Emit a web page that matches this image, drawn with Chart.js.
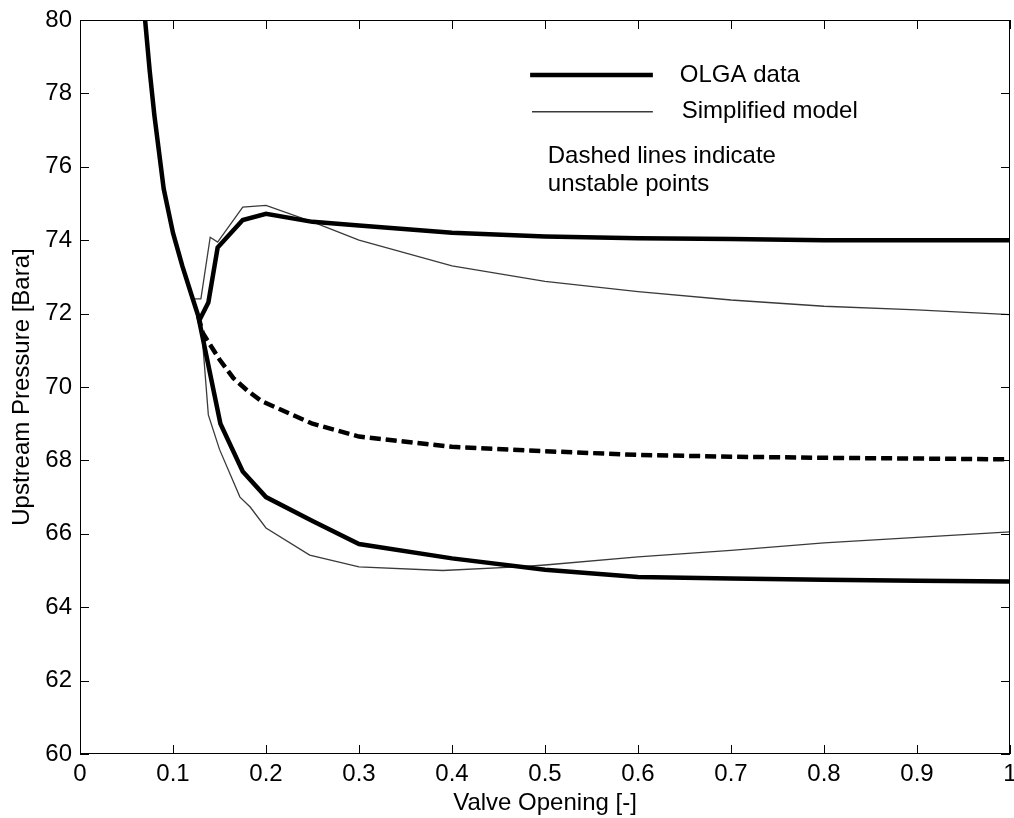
<!DOCTYPE html>
<html>
<head>
<meta charset="utf-8">
<script src="https://cdn.jsdelivr.net/npm/chart.js@4/dist/chart.umd.min.js"></script>
<style>
  html, body { margin: 0; padding: 0; background: #fff; }
  #wrap { width: 1014px; height: 818px; }
</style>
</head>
<body>
<div id="wrap"><canvas id="chart" width="1014" height="818"></canvas></div>
<script>
  // values
  var xTicks = [0, 0.1, 0.2, 0.3, 0.4, 0.5, 0.6, 0.7, 0.8, 0.9, 1];
  var yTicks = [60, 62, 64, 66, 68, 70, 72, 74, 76, 78, 80];

  // OLGA data: steep branch + upper stable branch
  var olgaUpperX = [0.070, 0.075, 0.080, 0.090, 0.100, 0.110, 0.120, 0.127, 0.130, 0.138, 0.148, 0.175, 0.200, 0.250, 0.300, 0.400, 0.500, 0.600, 0.700, 0.800, 0.900, 1.000];
  var olgaUpperY = [80.0, 78.6, 77.4, 75.4, 74.2, 73.3, 72.5, 71.95, 71.9, 72.3, 73.8, 74.55, 74.72, 74.5, 74.4, 74.2, 74.1, 74.05, 74.03, 74.0, 74.0, 74.0];
  // OLGA lower stable branch
  var olgaLowerX = [0.127, 0.151, 0.175, 0.200, 0.250, 0.300, 0.400, 0.500, 0.600, 0.700, 0.800, 0.900, 1.000];
  var olgaLowerY = [71.95, 69.0, 67.7, 67.0, 66.35, 65.72, 65.33, 65.02, 64.82, 64.78, 64.75, 64.72, 64.7];
  // OLGA unstable (dashed) branch
  var olgaDashX = [0.127, 0.132, 0.150, 0.165, 0.180, 0.195, 0.250, 0.300, 0.400, 0.500, 0.600, 0.700, 0.800, 0.900, 1.000];
  var olgaDashY = [71.95, 71.47, 70.75, 70.24, 69.9, 69.62, 69.0, 68.65, 68.37, 68.25, 68.15, 68.1, 68.07, 68.05, 68.03];

  // Simplified model: steep branch + upper branch
  var simUpperX = [0.070, 0.075, 0.080, 0.090, 0.100, 0.110, 0.120, 0.122, 0.130, 0.140, 0.148, 0.175, 0.200, 0.250, 0.300, 0.400, 0.500, 0.600, 0.700, 0.800, 0.900, 1.000];
  var simUpperY = [80.0, 78.6, 77.4, 75.4, 74.2, 73.3, 72.5, 72.4, 72.4, 74.08, 73.95, 74.9, 74.95, 74.5, 74.0, 73.3, 72.88, 72.6, 72.37, 72.2, 72.1, 71.97];
  var simLowerX = [0.127, 0.131, 0.138, 0.150, 0.172, 0.183, 0.200, 0.247, 0.300, 0.390, 0.470, 0.500, 0.600, 0.700, 0.800, 0.900, 1.000];
  var simLowerY = [72.0, 71.5, 69.24, 68.3, 67.0, 66.73, 66.16, 65.42, 65.1, 65.0, 65.1, 65.15, 65.37, 65.55, 65.75, 65.9, 66.05];
  var simDashX = [0.127, 0.132, 0.150, 0.165, 0.180, 0.195, 0.250, 0.300, 0.400, 0.500, 0.600, 0.700, 0.800, 0.900, 1.000];
  var simDashY = [71.95, 71.47, 70.75, 70.24, 69.9, 69.62, 69.0, 68.65, 68.37, 68.25, 68.15, 68.1, 68.07, 68.05, 68.03];

  var FONT = 'Arial, "Liberation Sans", sans-serif';

  var pts = function (xs, ys) {
    return xs.map(function (x, i) { return { x: x, y: ys[i] }; });
  };

  var thick = function (xs, ys, dash) {
    return { data: pts(xs, ys), borderColor: '#000', borderWidth: 4.5, borderDash: dash || [],
             pointRadius: 0, tension: 0, fill: false, order: 1 };
  };
  var thin = function (xs, ys, dash) {
    return { data: pts(xs, ys), borderColor: '#3a3a3a', borderWidth: 1.3, borderDash: dash || [],
             pointRadius: 0, tension: 0, fill: false, order: 2 };
  };

  // box with inward ticks on all four sides
  var boxPlugin = {
    id: 'box',
    afterDatasetsDraw: function (chart) {
      var ctx = chart.ctx, a = chart.chartArea;
      var xs = chart.scales.x, ys = chart.scales.y, len = 9;
      ctx.save();
      ctx.strokeStyle = '#000';
      ctx.lineWidth = 1;
      ctx.strokeRect(a.left + 0.5, a.top + 0.5, a.right - a.left - 1, a.bottom - a.top - 1);
      ctx.beginPath();
      xTicks.forEach(function (v) {
        var p = Math.round(xs.getPixelForValue(v)) + 0.5;
        ctx.moveTo(p, a.bottom); ctx.lineTo(p, a.bottom - len);
        ctx.moveTo(p, a.top); ctx.lineTo(p, a.top + len);
      });
      yTicks.forEach(function (v) {
        var p = Math.round(ys.getPixelForValue(v)) + 0.5;
        ctx.moveTo(a.left, p); ctx.lineTo(a.left + len, p);
        ctx.moveTo(a.right, p); ctx.lineTo(a.right - len, p);
      });
      ctx.stroke();
      ctx.restore();
    }
  };

  // text legend inside the plot
  var notePlugin = {
    id: 'note',
    afterDraw: function (chart) {
      var ctx = chart.ctx, xs = chart.scales.x, ys = chart.scales.y;
      var X = function (v) { return xs.getPixelForValue(v); };
      var Y = function (v) { return ys.getPixelForValue(v); };
      ctx.save();
      ctx.font = '24px ' + FONT;
      ctx.fillStyle = '#000';
      ctx.textBaseline = 'middle';
      ctx.lineCap = 'butt';
      ctx.strokeStyle = '#000';
      ctx.lineWidth = 4.5;
      ctx.beginPath(); ctx.moveTo(X(0.484), Y(78.5)); ctx.lineTo(X(0.616), Y(78.5)); ctx.stroke();
      ctx.fillText('OLGA data', X(0.645), Y(78.5));
      ctx.strokeStyle = '#3a3a3a';
      ctx.lineWidth = 1.3;
      ctx.beginPath(); ctx.moveTo(X(0.486), Y(77.5)); ctx.lineTo(X(0.616), Y(77.5)); ctx.stroke();
      ctx.fillText('Simplified model', X(0.647), Y(77.5));
      ctx.fillText('Dashed lines indicate', X(0.503), Y(76.28));
      ctx.fillText('unstable points', X(0.503), Y(75.52));
      ctx.restore();
    }
  };

  var config = {
    type: 'line',
    data: {
      datasets: [
        thick(olgaUpperX, olgaUpperY),
        thick(olgaLowerX, olgaLowerY),
        thick(olgaDashX, olgaDashY, [11, 5]),
        thin(simUpperX, simUpperY),
        thin(simLowerX, simLowerY),
        thin(simDashX, simDashY, [11, 5])
      ]
    },
    options: {
      responsive: false,
      animation: false,
      layout: {
        autoPadding: false,
        padding: { top: 20, right: 4, left: 0, bottom: 0 }
      },
      plugins: {
        legend: { display: false },
        tooltip: { enabled: false }
      },
      scales: {
        x: {
          type: 'linear',
          min: 0,
          max: 1,
          afterBuildTicks: function (s) { s.ticks = xTicks.map(function (v) { return { value: v }; }); },
          afterFit: function (s) { s.height = 64; s.paddingLeft = 0; s.paddingRight = 0; },
          grid: { display: false, drawTicks: false },
          border: { display: false },
          ticks: {
            padding: 6,
            color: '#000',
            font: { family: FONT, size: 24 },
            maxRotation: 0,
            callback: function (v) { return String(+v.toFixed(1)); }
          },
          title: {
            display: true,
            text: 'Valve Opening [-]',
            color: '#000',
            font: { family: FONT, size: 24 },
            padding: { top: 0, bottom: 0 }
          }
        },
        y: {
          min: 60,
          max: 80,
          afterBuildTicks: function (s) { s.ticks = yTicks.map(function (v) { return { value: v }; }); },
          afterFit: function (s) { s.width = 80; s.paddingTop = 0; s.paddingBottom = 0; },
          grid: { display: false, drawTicks: false },
          border: { display: false },
          ticks: {
            padding: 8,
            color: '#000',
            font: { family: FONT, size: 24 }
          },
          title: {
            display: true,
            text: 'Upstream Pressure [Bara]',
            color: '#000',
            font: { family: FONT, size: 24 },
            padding: { top: 8, bottom: 0 }
          }
        }
      }
    },
    plugins: [boxPlugin, notePlugin]
  };

  window.onload = function () {
    var ctx = document.getElementById('chart').getContext('2d');
    window.myChart = new Chart(ctx, config);
  };
</script>
</body>
</html>
